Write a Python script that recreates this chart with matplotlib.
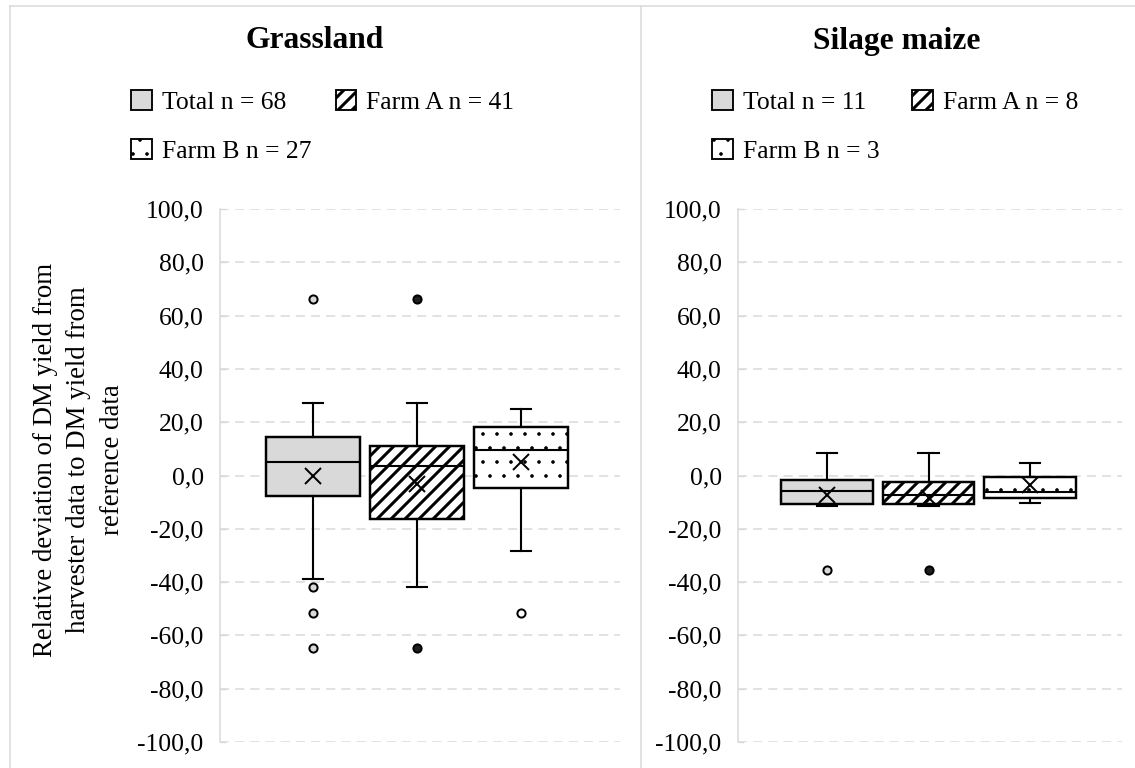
"""
Box plots of relative DM yield deviation, grassland vs silage maize.
"""

import matplotlib
matplotlib.use("Agg")
import matplotlib.pyplot as plt
import numpy as np
from matplotlib.lines import Line2D
from matplotlib.patches import Patch
from matplotlib.ticker import FuncFormatter

# --- data ------------------------------------------------------------------
categories = ["Total", "Farm A", "Farm B"]

grass_n = [68, 41, 27]
grass_q1 = [-7.8, -16.3, -4.6]
grass_med = [5.2, 3.5, 9.4]
grass_q3 = [14.4, 11.0, 18.1]
grass_whislo = [-38.9, -41.9, -28.5]
grass_whishi = [27.1, 27.1, 25.0]
grass_mean = [0.0, -3.1, 5.2]
grass_fliers = [[66.3, -41.9, -51.7, -64.8], [66.3, -64.8], [-51.7]]

maize_n = [11, 8, 3]
maize_q1 = [-10.6, -10.6, -8.4]
maize_med = [-6.0, -7.3, -6.2]
maize_q3 = [-1.6, -2.6, -0.4]
maize_whislo = [-11.5, -11.5, -10.4]
maize_whishi = [8.4, 8.4, 4.6]
maize_mean = [-7.3, -8.3, -3.6]
maize_fliers = [[-35.3], [-35.3], []]

yticks = list(range(-100, 101, 20))
ylabel = "Relative deviation of DM yield from\nharvester data to DM yield from\nreference data"

# --- styles -----------------------------------------------------------------
W, H, DPI = 1135, 768, 84
FS = 22
GRID = "#d9d9d9"
face_colors = ["#d9d9d9", "white", "white"]
hatches = [None, "//", "."]
hatch_lw = [1.0, 2.6, 0.6]
flier_faces = ["#d9d9d9", "#202020", "white"]

plt.rcParams["font.family"] = ["Liberation Serif", "DejaVu Serif"]
plt.rcParams["hatch.color"] = "black"


def px(x, y):
    return x / W, 1 - y / H


def set_hatch_lw(artist, lw):
    # per-artist hatch width: stored on the patch in newer matplotlib,
    # read from rcParams at draw time in older ones
    if hasattr(artist, "set_hatch_linewidth"):
        artist.set_hatch_linewidth(lw)
    artist._hatch_linewidth = lw
    orig = artist.draw

    def draw(renderer, _orig=orig, _lw=lw):
        with plt.rc_context({"hatch.linewidth": _lw}):
            _orig(renderer)

    artist.draw = draw


def make_stats(q1, med, q3, lo, hi, mean, fliers):
    stats = []
    for i, cat in enumerate(categories):
        stats.append(dict(label=cat, q1=q1[i], med=med[i], q3=q3[i],
                          whislo=lo[i], whishi=hi[i], mean=mean[i],
                          fliers=np.array(fliers[i])))
    return stats


def draw_panel(ax, stats, xlim):
    bp = ax.bxp(
        stats, positions=[1, 2, 3], widths=0.9, patch_artist=True,
        showmeans=True, capwidths=0.2,
        boxprops=dict(linewidth=2.1, edgecolor="black"),
        medianprops=dict(color="black", linewidth=1.8),
        whiskerprops=dict(color="black", linewidth=1.8),
        capprops=dict(color="black", linewidth=1.8),
        meanprops=dict(marker="x", markeredgecolor="black", markersize=13,
                       markeredgewidth=1.7),
        flierprops=dict(marker="o", markersize=7, markeredgecolor="black",
                        markeredgewidth=1.7),
    )
    for i, box in enumerate(bp["boxes"]):
        box.set_facecolor(face_colors[i])
        box.set_edgecolor("black")
        if hatches[i]:
            box.set_hatch(hatches[i])
        set_hatch_lw(box, hatch_lw[i])
    for i, fl in enumerate(bp["fliers"]):
        fl.set_markerfacecolor(flier_faces[i])

    ax.set_xlim(*xlim)
    ax.set_ylim(-100, 100)
    ax.set_yticks(yticks)
    ax.yaxis.set_major_formatter(FuncFormatter(lambda v, _: f"{v:.1f}".replace(".", ",")))
    ax.yaxis.grid(True, color=GRID, linewidth=1.3, linestyle=(0, (6, 4)))
    ax.set_axisbelow(True)
    ax.tick_params(axis="y", direction="in", length=5, width=1.2, color=GRID,
                   labelsize=FS, pad=14)
    ax.tick_params(axis="x", bottom=False, labelbottom=False)
    for side in ["top", "right", "bottom"]:
        ax.spines[side].set_visible(False)
    ax.spines["left"].set_color(GRID)
    ax.spines["left"].set_linewidth(1.3)


def add_legend(fig, n, anchor, colspace):
    handles = []
    for i, cat in enumerate(categories):
        handles.append(Patch(facecolor=face_colors[i], edgecolor="black",
                             linewidth=1.6, hatch=hatches[i],
                             label=f"{cat} n = {n[i]}"))
    order = [0, 2, 1]
    leg = fig.legend([handles[k] for k in order],
                     [handles[k].get_label() for k in order],
                     loc="upper left", bbox_to_anchor=px(*anchor), ncol=2,
                     frameon=False, fontsize=FS, borderpad=0, borderaxespad=0,
                     handlelength=0.8, handleheight=0.8, handletextpad=0.4,
                     columnspacing=colspace, labelspacing=1.0)
    for k, h in zip(order, leg.legend_handles):
        set_hatch_lw(h, hatch_lw[k])
    return leg


fig = plt.figure(figsize=(W / DPI, H / DPI), dpi=DPI)

ax1 = fig.add_axes([220 / W, 1 - 742 / H, 400 / W, 533 / H])
ax2 = fig.add_axes([738 / W, 1 - 742 / H, 384 / W, 533 / H])

draw_panel(ax1, make_stats(grass_q1, grass_med, grass_q3, grass_whislo,
                           grass_whishi, grass_mean, grass_fliers), (0.106, 3.952))
draw_panel(ax2, make_stats(maize_q1, maize_med, maize_q3, maize_whislo,
                           maize_whishi, maize_mean, maize_fliers), (0.123, 3.906))

fig.text(*px(315, 41), "Grassland", ha="center", va="center",
         fontsize=27, fontweight="bold")
fig.text(*px(897, 41), "Silage maize", ha="center", va="center",
         fontsize=27, fontweight="bold")

add_legend(fig, grass_n, (131, 90), 0.95)
add_legend(fig, maize_n, (712, 90), 1.27)

fig.text(*px(79, 460), ylabel, rotation=90, ha="center", va="center",
         multialignment="center", fontsize=23, linespacing=1.45)

# chart-object borders
for xs, ys in [((10, 1135), (6, 6)), ((10, 10), (6, 768)), ((641, 641), (6, 768))]:
    fig.add_artist(Line2D([x / W for x in xs], [1 - y / H for y in ys],
                          color=GRID, linewidth=1.3))

fig.savefig("out.png", dpi=DPI)
